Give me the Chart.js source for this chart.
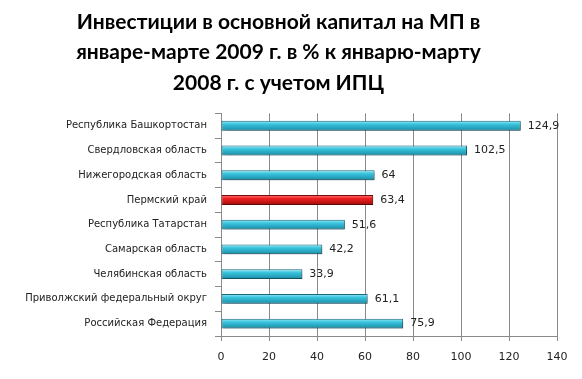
<!DOCTYPE html>
<html><head><meta charset="utf-8">
<script src="https://cdn.jsdelivr.net/npm/chart.js@4"></script>
<style>html,body{margin:0;padding:0;background:#fff}#wrap{width:582px;height:379px}</style>
</head><body><div id="wrap"><canvas id="c" width="582" height="379"></canvas></div>
<script>
const categories = ["Республика Башкортостан","Свердловская область","Нижегородская область","Пермский край","Республика Татарстан","Самарская область","Челябинская область","Приволжский федеральный округ","Российская Федерация"];
const values = [124.9, 102.5, 64, 63.4, 51.6, 42.2, 33.9, 61.1, 75.9];
const valueLabels = ["124,9","102,5","64","63,4","51,6","42,2","33,9","61,1","75,9"];
const highlightIndex = 3;
const xTicks = [0,20,40,60,80,100,120,140];
const titleLines = ["Инвестиции в основной капитал на МП в","январе-марте 2009 г. в % к январю-марту","2008 г. с учетом ИПЦ"];

function barFill(ctx){
  const chart = ctx.chart;
  const red = ctx.dataIndex === highlightIndex;
  if(!chart.chartArea) return red ? '#e01c1c' : '#3cc3dc';
  const y = chart.scales.y.getPixelForValue(ctx.dataIndex);
  const g = chart.ctx.createLinearGradient(0, y-5, 0, y+5);
  if(red){ g.addColorStop(0,'#ff8080'); g.addColorStop(0.35,'#f02020'); g.addColorStop(1,'#a00c0c'); }
  else { g.addColorStop(0,'#a0ecf8'); g.addColorStop(0.35,'#38c4de'); g.addColorStop(1,'#1a8aa4'); }
  return g;
}

const labelPlugin = {
  id:'vlabels',
  beforeDatasetsDraw(chart){ const c=chart.ctx; c.save(); c.shadowColor='rgba(0,0,0,0.3)'; c.shadowOffsetX=2; c.shadowOffsetY=2; c.shadowBlur=3; },
  afterDatasetsDraw(chart){
    const c = chart.ctx; c.restore(); c.save();
    c.font = '11px "DejaVu Sans"'; c.fillStyle='#222'; c.textAlign='left'; c.textBaseline='middle';
    chart.getDatasetMeta(0).data.forEach((el,i)=>{ c.fillText(valueLabels[i], el.x+7, el.y); });
    c.restore();
  }
};

new Chart(document.getElementById('c'), {
  type:'bar',
  data:{ labels:categories, datasets:[{ data:values, backgroundColor:barFill,
    borderColor:(ctx)=>ctx.dataIndex===highlightIndex?'#7a0a0a':'#1a6a7e', borderWidth:1, borderSkipped:false,
    barPercentage:0.8, categoryPercentage:0.5 }]},
  options:{
    indexAxis:'y', responsive:false, animation:false,
    layout:{ padding:{ left:0, right:25, top:0, bottom:0 } },
    plugins:{ legend:{display:false}, tooltip:{enabled:false},
      title:{ display:true, text:titleLines, color:'#000', font:{ family:'Lato', size:21, weight:'bold', lineHeight:1.45 }, padding:{top:7,bottom:15} } },
    scales:{
      x:{ min:0, max:140, afterBuildTicks(s){ s.ticks = xTicks.map(v=>({value:v})); },
        grid:{ color:'#8a8a8a', lineWidth:1, tickLength:5, drawTicks:true },
        border:{ color:'#8a8a8a' },
        ticks:{ color:'#222', font:{ family:'DejaVu Sans', size:11 }, padding:10 },
        afterFit(s){ s.height = 43; } },
      y:{ grid:{ drawOnChartArea:false, color:'#8a8a8a', tickLength:6, offset:true }, border:{ color:'#8a8a8a' },
        ticks:{ color:'#222', font:{ family:'DejaVu Sans', size:10 }, padding:8, autoSkip:false },
        afterFit(s){ s.width = 221; } }
    }
  },
  plugins:[labelPlugin]
});
</script></body></html>
